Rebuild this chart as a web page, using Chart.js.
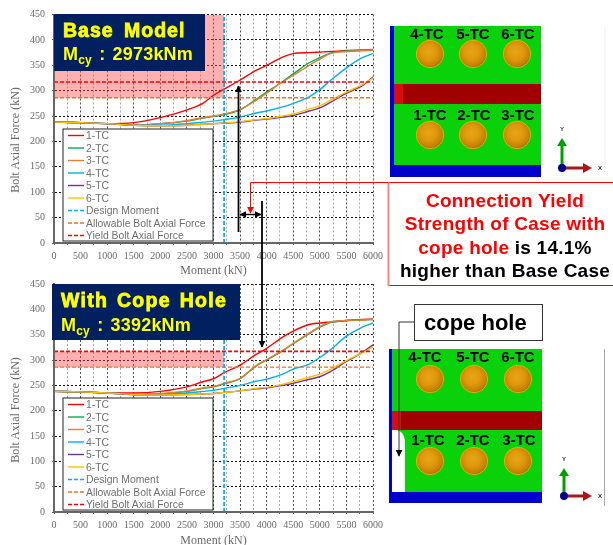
<!DOCTYPE html>
<html><head><meta charset="utf-8">
<script src="https://cdn.jsdelivr.net/npm/chart.js@4/dist/chart.umd.min.js"></script>
<style>
html,body{margin:0;padding:0;background:#fff;width:613px;height:545px;overflow:hidden}
canvas{position:absolute;left:0}
#c1{top:0}#c2{top:265px}
#ov{position:absolute;left:0;top:0}
text{font-family:"Liberation Sans",Arial,sans-serif}
</style></head><body>
<canvas id="c1"></canvas><canvas id="c2"></canvas>
<svg id="ov" width="613" height="545" viewBox="0 0 613 545"></svg>
<script>
const moments=[0,500,1000,1500,2000,2500,2800,3000,3200,3500,3800,4000,4300,4500,4800,5000,5200,5500,5800,6000];
const seriesNames=['1-TC','2-TC','3-TC','4-TC','5-TC','6-TC'];
const seriesColors=['#FF0000','#00B050','#ED7D31','#00B0F0','#7030A0','#FFC000'];
const base1=[238,237,235,237,247,262,275,291,303,321,340,350,366,373,375,376,377,379,380,381];
const base2=[238,237,235,232,235,240,246,249,253,262,283,297,318,333,355,365,374,378,379,380];
const base3=[238,237,235,232,235,241,247,250,254,263,281,295,317,330,350,362,373,377,379,380];
const base4=[238,237,235,232,232,235,238,240,243,248,256,260,268,275,288,302,320,345,365,373];
const base5=[238,237,235,232,231,232,234,235,236,238,242,244,248,251,260,266,277,295,310,327];
const base6=[238,237,235,232,231,232,234,235,236.5,239,243,245,250,254,264,270,281,297,312,325];
const cope1=[238,237,235,235,238,247,257,263,275,290,311,323,345,357,370,373,375,378,380,381];
const cope2=[238,237,235,232,233,238,244,247,253,263,288,300,318,332,352,365,374,378,379,380];
const cope3=[238,237,235,232,234,239,245,248,254,264,289,301,319,333,353,366,375,378,379,380];
const cope4=[238,237,235,232,232,235,238,240,244,250,258,262,272,282,292,305,320,347,365,373];
const cope5=[238,237,235,232,231,232,233,234,236,239,243,245,250,254,262,267,277,297,315,330];
const cope6=[238,237,235,232,231,232,233,234,236,239,244,246,252,257,266,272,282,299,314,326];
const designMoment=3200, allowableForce=286, yieldForce=317, yMax=450, xMax=6000;
const refNames=['Design Moment','Allowable Bolt Axial Force','Yield Bolt Axial Force'];
const refColors=['#00B0F0','#F07020','#FF0000'];
const shadeTopBase=yMax, shadeTopCope=yieldForce;
const titleBase='Base Model', mcyBase=': 2973kNm';
const titleCope='With Cope Hole', mcyCope=': 3392kNm';
const yAxisLabel='Bolt Axial Force (kN)', xAxisLabel='Moment (kN)';
const noteLines=[[['Connection Yield','#FF0000']],[['Strength of Case with','#FF0000']],[['cope hole','#FF0000'],[' is 14.1%','#000']],[['higher than Base Case','#000']]];
const boltRows=[['4-TC','5-TC','6-TC'],['1-TC','2-TC','3-TC']];

const GRAY='#6b6b6b';
function makeChart(id,w,h,padTop,xH,sets,shadeTop){
  const pts=a=>a.map((v,i)=>({x:moments[i],y:v}));
  const ds=[{label:'shade',data:[{x:0,y:shadeTop},{x:designMoment,y:shadeTop}],borderWidth:0,pointRadius:0,
      backgroundColor:'rgba(255,70,70,0.42)',fill:{value:allowableForce},order:9}];
  sets.forEach((s,i)=>ds.push({label:seriesNames[i],data:pts(s),borderColor:seriesColors[i],borderWidth:1.4,
      pointRadius:0,cubicInterpolationMode:'monotone',fill:false,order:6-i}));
  ds.push({label:refNames[0],data:[{x:designMoment,y:0},{x:designMoment,y:yMax}],borderColor:refColors[0],borderWidth:1.8,borderDash:[4,2],pointRadius:0,order:0});
  ds.push({label:refNames[1],data:[{x:0,y:allowableForce},{x:xMax,y:allowableForce}],borderColor:refColors[1],borderWidth:1.4,borderDash:[4,2],pointRadius:0,order:0});
  ds.push({label:refNames[2],data:[{x:0,y:yieldForce},{x:xMax,y:yieldForce}],borderColor:refColors[2],borderWidth:1.6,borderDash:[4,2],pointRadius:0,order:0});
  const el=document.getElementById(id);
  el.style.width=w+'px';el.style.height=h+'px';
  return new Chart(el,{type:'line',data:{datasets:ds},options:{
    responsive:false,animation:false,devicePixelRatio:1,
    layout:{padding:{left:0,right:17,top:padTop,bottom:0}},
    plugins:{legend:{display:false},tooltip:{enabled:false}},
    scales:{
      x:{type:'linear',min:0,max:xMax,
        afterFit:s=>{s.height=xH},
        afterBuildTicks:s=>{const t=[];for(let v=0;v<=xMax;v+=250)t.push({value:v});s.ticks=t},
        ticks:{autoSkip:false,maxRotation:0,color:GRAY,padding:5,font:{family:'Liberation Serif',size:10},
          callback:v=>v%500===0?String(v):''},
        border:{display:true,color:'#666',width:2,dash:[2,2]},
        grid:{drawTicks:true,tickLength:2,tickColor:'#666',
          color:c=>c.tick.value===0?'rgba(0,0,0,0)':(c.tick.value%500===0?'#555':'#aaa'),lineWidth:1},
        title:{display:true,text:xAxisLabel,color:GRAY,padding:{top:1,bottom:0},font:{family:'Liberation Serif',size:12}}},
      y:{min:0,max:yMax,
        afterFit:s=>{s.width=54},
        ticks:{stepSize:50,color:GRAY,padding:7,font:{family:'Liberation Serif',size:10}},
        border:{display:true,color:'#666',width:2,dash:[2,2]},
        grid:{tickLength:2,tickColor:'#666',color:c=>c.tick.value===0?'rgba(0,0,0,0)':'#111',lineWidth:1}}
    }},plugins:[{id:'solidAxes',afterDraw(c){const a=c.chartArea,x=c.ctx;x.save();x.strokeStyle='#666';x.lineWidth=2;x.setLineDash([]);
      x.beginPath();x.moveTo(a.left,a.top);x.lineTo(a.left,a.bottom);x.lineTo(a.right,a.bottom);x.stroke();x.restore();}}]});
}
makeChart('c1',390,278,14.5,35,[base1,base2,base3,base4,base5,base6],shadeTopBase);
makeChart('c2',390,283,19,36,[cope1,cope2,cope3,cope4,cope5,cope6],shadeTopCope);

let s='';
s+=`<defs>
<radialGradient id="bolt" cx="45%" cy="42%" r="60%"><stop offset="0" stop-color="#E9A417"/><stop offset=".45" stop-color="#DE9A0C"/><stop offset=".85" stop-color="#C77F00"/><stop offset="1" stop-color="#9A6400"/></radialGradient>
<marker id="ak" markerUnits="userSpaceOnUse" viewBox="0 0 10 10" refX="9" refY="5" markerWidth="7" markerHeight="7" orient="auto-start-reverse"><path d="M0 0L10 5L0 10z" fill="#000"/></marker>
<marker id="ar" markerUnits="userSpaceOnUse" viewBox="0 0 10 10" refX="9" refY="5" markerWidth="7" markerHeight="7" orient="auto"><path d="M0 0L10 5L0 10z" fill="#f00"/></marker>
<marker id="as" markerUnits="userSpaceOnUse" viewBox="0 0 10 10" refX="9" refY="5" markerWidth="7" markerHeight="7" orient="auto"><path d="M0 0L10 5L0 10z" fill="#000"/></marker>
</defs>`;
function yLabel(cy){s+=`<text transform="translate(19 ${cy}) rotate(-90)" text-anchor="middle" font-size="12" fill="${GRAY}" style="font-family:'Liberation Serif'">${yAxisLabel}</text>`;}
yLabel(140);yLabel(410);
function legend(x,y){
  let o=`<rect x="${x}" y="${y}" width="150" height="112" fill="#fff" stroke="#222" stroke-width="1"/>`;
  const row=(i,label,col,dash)=>{const yy=y+6.5+i*12.5;
    o+=`<line x1="${x+5}" x2="${x+21}" y1="${yy}" y2="${yy}" stroke="${col}" stroke-width="1.4" ${dash?'stroke-dasharray="4 2"':''}/>`;
    o+=`<text x="${x+23}" y="${yy+3.5}" font-size="10.4" fill="#707070">${label}</text>`;};
  seriesNames.forEach((n,i)=>row(i,n,seriesColors[i],false));
  refNames.forEach((n,i)=>row(i+6,n,refColors[i],true));
  return o;
}
s+=legend(63,129)+legend(63,398);
function titleBox(x,y,w,h,t,m,tx,ty,my,ls,ws){
  s+=`<rect x="${x}" y="${y}" width="${w}" height="${h}" fill="#002060"/>`;
  s+=`<text x="${tx}" y="${ty}" font-size="19.5" font-weight="bold" fill="#FFFF00" letter-spacing="${ls}" word-spacing="${ws}" stroke="#FFFF00" stroke-width=".8">${t}</text>`;
  s+=`<text x="${tx}" y="${my}" font-size="18" font-weight="bold" fill="#FFFF00" word-spacing="2" letter-spacing=".2">M<tspan font-size="12" dy="4">cy</tspan><tspan dy="-4"> ${m}</tspan></text>`;
}
titleBox(54,14,151,57,titleBase,mcyBase,63,37,60,1,4);
titleBox(52,284,188,56,titleCope,mcyCope,61,307,331,1.3,2);
// model panels
function panel(x,y,w,h,bandY,bandH,bottomY,strip,rows,bx,by,lx,ly,cope){
  s+=`<rect x="${x}" y="${y}" width="${w}" height="${h}" fill="#0000CC"/>`;
  s+=`<rect x="${x+strip}" y="${y}" width="${w-strip}" height="${bottomY-y}" fill="#0AD20A"/>`;
  s+=`<rect x="${x+strip}" y="${bandY}" width="${w-strip}" height="${bandH}" fill="#A00000"/>`;
  s+=`<rect x="${x+strip}" y="${bandY}" width="9" height="${bandH}" fill="#D80E0E"/>`;
  if(cope) s+=`<path d="M${x+strip} ${bandY+bandH}h4q9 1 9 14V${bottomY}h-13z" fill="#fff"/>`;
  rows.forEach((r,ri)=>r.forEach((t,ci)=>{
    s+=`<circle cx="${bx[ci]}" cy="${by[ri]}" r="13.7" fill="url(#bolt)" stroke="#D8B400" stroke-width="1"/>`;
    s+=`<text x="${lx[ri][ci]}" y="${ly[ri]}" font-size="15" font-weight="bold" text-anchor="middle" fill="#000">${t}</text>`;
  }));
}
panel(390,26,151,151,84,20,165,4,boltRows,[430,473,517],[54,135],[[427,473,518],[430,474,518]],[39,120],false);
panel(389,349,153,154,411,19,492,3,boltRows,[430,474,518],[379,461],[[425,473,518],[428,473,519]],[362,445],true);
function triad(ox,oy,tx,ty,xl,yl){
  s+=`<line x1="${ox}" y1="${oy}" x2="${ox}" y2="${ty+7}" stroke="#00A000" stroke-width="3"/><path d="M${ox-5} ${ty+8}L${ox} ${ty}L${ox+5} ${ty+8}z" fill="#00A000"/>`;
  s+=`<line x1="${ox}" y1="${oy}" x2="${tx-8}" y2="${oy}" stroke="#A81818" stroke-width="3"/><path d="M${tx-9} ${oy-5}L${tx} ${oy}L${tx-9} ${oy+5}z" fill="#A81818"/>`;
  s+=`<circle cx="${ox}" cy="${oy}" r="4" fill="#000090"/>`;
  s+=`<text x="${ox}" y="${yl}" font-size="6" font-weight="bold" text-anchor="middle" fill="#333">Y</text>`;
  s+=`<text x="${xl}" y="${oy+2}" font-size="6" font-weight="bold" text-anchor="middle" fill="#333">X</text>`;
}
triad(562,168,592,138,600,131);
triad(564,496,592,468,600,461);
s+=`<line x1="604.5" x2="604.5" y1="349" y2="506" stroke="#aaa"/>`;
s+=`<line x1="605" x2="605" y1="26" y2="172" stroke="#f0f0f0"/>`;
// note box
s+=`<rect x="388.5" y="182.5" width="230" height="103" fill="#fff" stroke="#FF0000" stroke-width="1"/>`;
s+=`<line x1="388.5" x2="388.5" y1="182" y2="286" stroke="#FF8080" stroke-width="2"/>`;
noteLines.forEach((ln,i)=>{
  s+=`<text x="505" y="${206.5+i*23.6}" font-size="19" letter-spacing=".25" font-weight="bold" text-anchor="middle" xml:space="preserve">`+ln.map(p=>`<tspan fill="${p[1]}">${p[0]}</tspan>`).join('')+`</text>`;
});
// arrows
s+=`<line x1="238.5" y1="232" x2="238.5" y2="86" stroke="#000" stroke-width="1.8" marker-end="url(#as)"/>`;
s+=`<line x1="262" y1="201" x2="262" y2="347" stroke="#000" stroke-width="1.8" marker-end="url(#as)"/>`;
s+=`<line x1="240" y1="214.5" x2="261" y2="214.5" stroke="#000" stroke-width="1.4" marker-start="url(#ak)" marker-end="url(#ak)"/>`;
s+=`<path d="M388 182.5H250.5V213" fill="none" stroke="#FF0000" stroke-width="1" marker-end="url(#ar)"/>`;
// cope label
s+=`<rect x="414.5" y="304.5" width="128" height="36" fill="#fff" stroke="#333"/>`;
s+=`<text x="424" y="330" font-size="22" font-weight="bold" fill="#000">cope hole</text>`;
s+=`<path d="M414 322H399V456" fill="none" stroke="#333" stroke-width="1" marker-end="url(#as)"/>`;
document.getElementById('ov').innerHTML=s;
</script>
</body></html>
